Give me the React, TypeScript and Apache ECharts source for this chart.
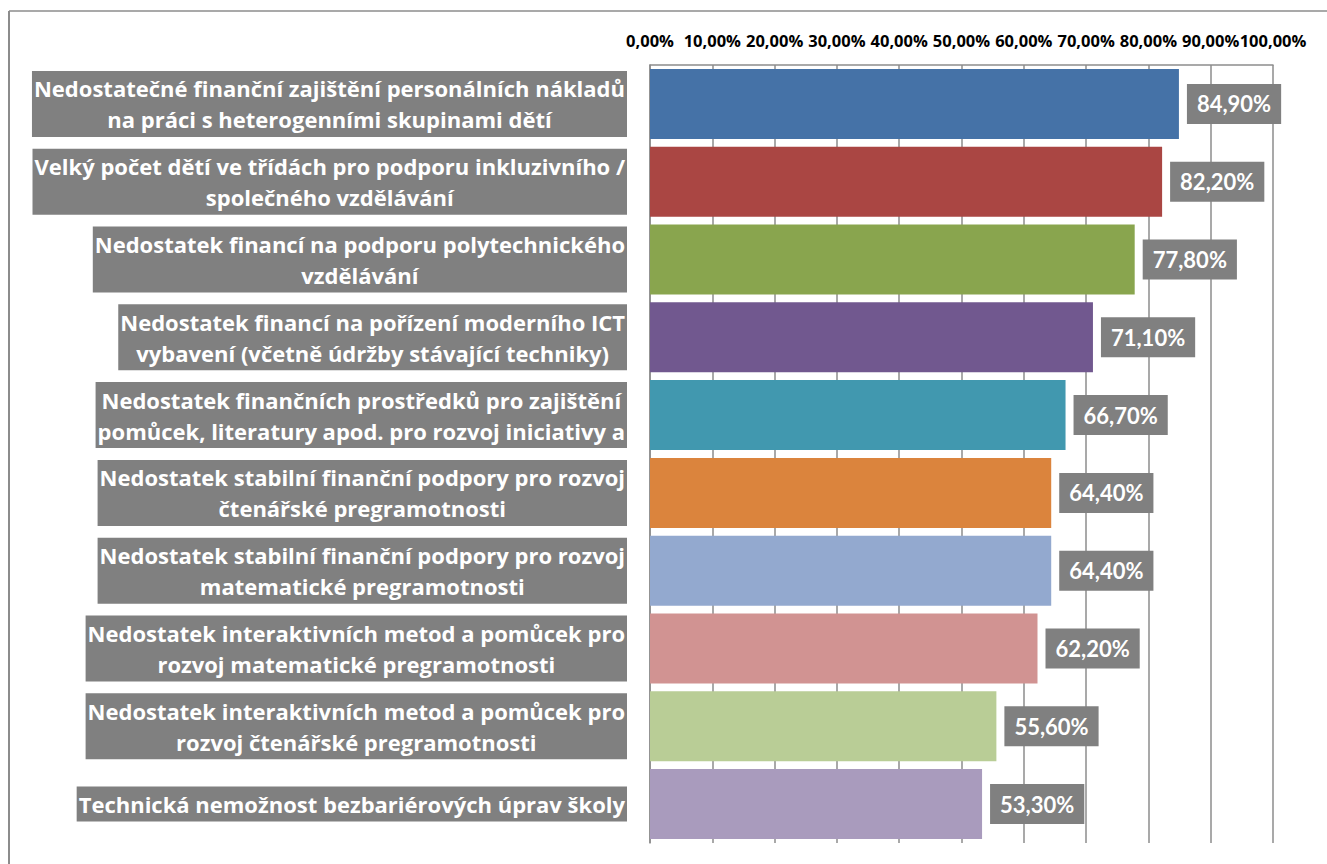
import React, { useEffect, useRef } from "react";
import * as echarts from "echarts";

const categories = [
  "Nedostatečné finanční zajištění personálních nákladů\nna práci s heterogenními skupinami dětí",
  "Velký počet dětí ve třídách pro podporu inkluzivního /\nspolečného vzdělávání",
  "Nedostatek financí na podporu polytechnického\nvzdělávání",
  "Nedostatek financí na pořízení moderního ICT\nvybavení (včetně údržby stávající techniky)",
  "Nedostatek finančních prostředků pro zajištění\npomůcek, literatury apod. pro rozvoj iniciativy a",
  "Nedostatek stabilní finanční podpory pro rozvoj\nčtenářské pregramotnosti",
  "Nedostatek stabilní finanční podpory pro rozvoj\nmatematické pregramotnosti",
  "Nedostatek interaktivních metod a pomůcek pro\nrozvoj matematické pregramotnosti",
  "Nedostatek interaktivních metod a pomůcek pro\nrozvoj čtenářské pregramotnosti",
  "Technická nemožnost bezbariérových úprav školy",
];

const values = [84.9, 82.2, 77.8, 71.1, 66.7, 64.4, 64.4, 62.2, 55.6, 53.3];

const barColors = [
  "#4572A7",
  "#AA4643",
  "#89A54E",
  "#71588F",
  "#4198AF",
  "#DB843D",
  "#93A9CF",
  "#D19392",
  "#B9CD96",
  "#A99BBD",
];

const fmtPct = (v: number) => v.toFixed(2).replace(".", ",") + "%";

export default function App() {
  const ref = useRef<HTMLDivElement>(null);
  useEffect(() => {
    if (!ref.current) return;
    const chart = echarts.init(ref.current, undefined, { renderer: "svg" });
    const lato = "Lato, 'Open Sans', sans-serif";
    const open = "'Open Sans', Lato, sans-serif";
    chart.setOption({
      animation: false,
      backgroundColor: "#ffffff",
      graphic: [
        {
          type: "line",
          shape: { x1: 9, y1: 11, x2: 1327, y2: 11 },
          style: { stroke: "#8c8c8c", lineWidth: 1.5 },
        },
        {
          type: "line",
          shape: { x1: 9, y1: 11, x2: 9, y2: 864 },
          style: { stroke: "#8c8c8c", lineWidth: 2 },
        },
      ],
      grid: { left: 650, right: 54, top: 65, bottom: 21, containLabel: false },
      xAxis: {
        type: "value",
        position: "top",
        min: 0,
        max: 100,
        interval: 10,
        axisLine: { show: true, lineStyle: { color: "#8c8c8c", width: 1.5 } },
        axisTick: { show: false },
        splitLine: { show: true, lineStyle: { color: "#8c8c8c", width: 1.5 } },
        axisLabel: {
          formatter: (v: number) => fmtPct(v),
          color: "#000",
          fontWeight: "bold",
          fontSize: 16.5,
          fontFamily: open,
          margin: 16,
          showMinLabel: true,
          showMaxLabel: true,
          hideOverlap: false,
        },
      },
      yAxis: {
        type: "category",
        inverse: true,
        data: categories,
        axisLine: { show: true, lineStyle: { color: "#8c8c8c", width: 1.5 } },
        axisTick: { show: false },
        axisLabel: {
          margin: 23,
          backgroundColor: "#808080",
          padding: [2, 2, 2, 2],
          formatter: (v: string) =>
            v
              .split("\n")
              .map((l) => "{c|" + l + "}")
              .join("\n"),
          rich: {
            c: {
              align: "center",
              color: "#ffffff",
              fontWeight: "bold",
              fontSize: 22,
              fontFamily: open,
              lineHeight: 31,
            },
          },
        },
      },
      series: [
        {
          type: "bar",
          barCategoryGap: "10%",
          data: values.map((v, i) => ({ value: v, itemStyle: { color: barColors[i] } })),
          label: {
            show: true,
            position: "right",
            distance: 8,
            formatter: (p: any) => fmtPct(p.value),
            backgroundColor: "#808080",
            color: "#ffffff",
            fontWeight: "bold",
            fontSize: 22,
            fontFamily: lato,
            padding: [9, 10, 9, 10],
          },
        },
      ],
    });
    return () => chart.dispose();
  }, []);
  return (
    <div
      ref={ref}
      style={{ position: "fixed", left: 0, top: 0, width: 1327, height: 864 }}
    />
  );
}
